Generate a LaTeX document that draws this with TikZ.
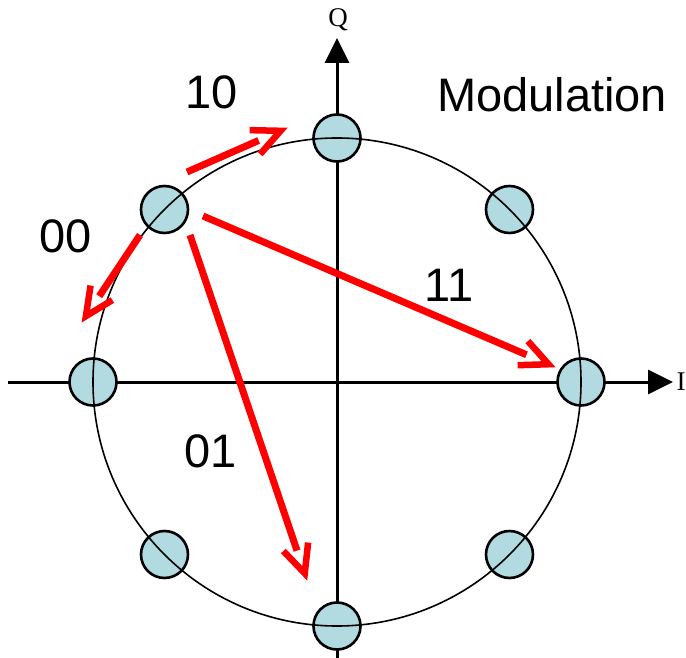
\documentclass[tikz,border=0pt]{standalone}
\usepackage{fontspec}
\setmainfont{Liberation Sans}
\newfontfamily\seriffont{Liberation Serif}
\usetikzlibrary{arrows.meta,calc}
\definecolor{dotfill}{RGB}{178,219,225}
\begin{document}
\begin{tikzpicture}[x=1pt,y=-1pt,
  axis/.style={line width=3pt,-{Triangle[length=25pt,width=24pt]}},
  dot/.style={circle,draw,line width=2.6pt,fill=dotfill,minimum size=47pt,inner sep=0pt},
  redline/.style={red,line width=7pt},
  chev/.style={red,line width=6.5pt,line join=miter},
  lbl/.style={font=\fontsize{47}{50}\selectfont,inner sep=0pt},
  axlbl/.style={font=\seriffont\fontsize{27}{29}\selectfont,inner sep=0pt}]
\useasboundingbox (0,0) rectangle (686,658);
\coordinate (O) at (337,382);
\coordinate (Iend) at (673,382);
\coordinate (Ileft) at (8,382);
\coordinate (Qend) at (337,38);
\coordinate (Qbot) at (337,658);
\draw[axis] (Ileft) -- (Iend);
\draw[axis] (Qbot) -- (Qend);
\node[axlbl] (Q) at (338,20) {Q};
\node[axlbl] (I) at (681,382) {I};
% constellation points
\node[dot] (dE)  at (581,382) {};
\node[dot] (dNE) at (509.5,209.5) {};
\node[dot] (dN)  at (337,138) {};
\node[dot] (dNW) at (164.5,209.5) {};
\node[dot] (dW)  at (93,382) {};
\node[dot] (dSW) at (164.5,554.5) {};
\node[dot] (dS)  at (337,626) {};
\node[dot] (dSE) at (509.5,554.5) {};
\draw[line width=1.6pt] (O) circle[radius=244pt];
% transitions
\coordinate (s1) at (187,172); \coordinate (t1) at (287,128);
\coordinate (s2) at (140,235); \coordinate (t2) at (82,322);
\coordinate (s3) at (203,216); \coordinate (t3) at (555,367);
\coordinate (s4) at (190,235); \coordinate (t4) at (307,580);
\foreach \i in {1,2,3,4}{
  \coordinate (a\i) at ($(t\i)!7pt!(s\i)$);
  \draw[redline] (s\i) -- ($(t\i)!31pt!(s\i)$);
  \draw[chev] ($(a\i)!31pt!25:(s\i)$) -- (a\i) -- ($(a\i)!31pt!-25:(s\i)$);
}
\node[lbl] (l10) at (212,92) {10};
\node[lbl] (l00) at (66,236) {00};
\node[lbl] (l11) at (449,285) {11};
\node[lbl] (l01) at (211,451) {01};
\node[lbl] (mod) at (552,95) {Modulation};
\end{tikzpicture}
\end{document}
